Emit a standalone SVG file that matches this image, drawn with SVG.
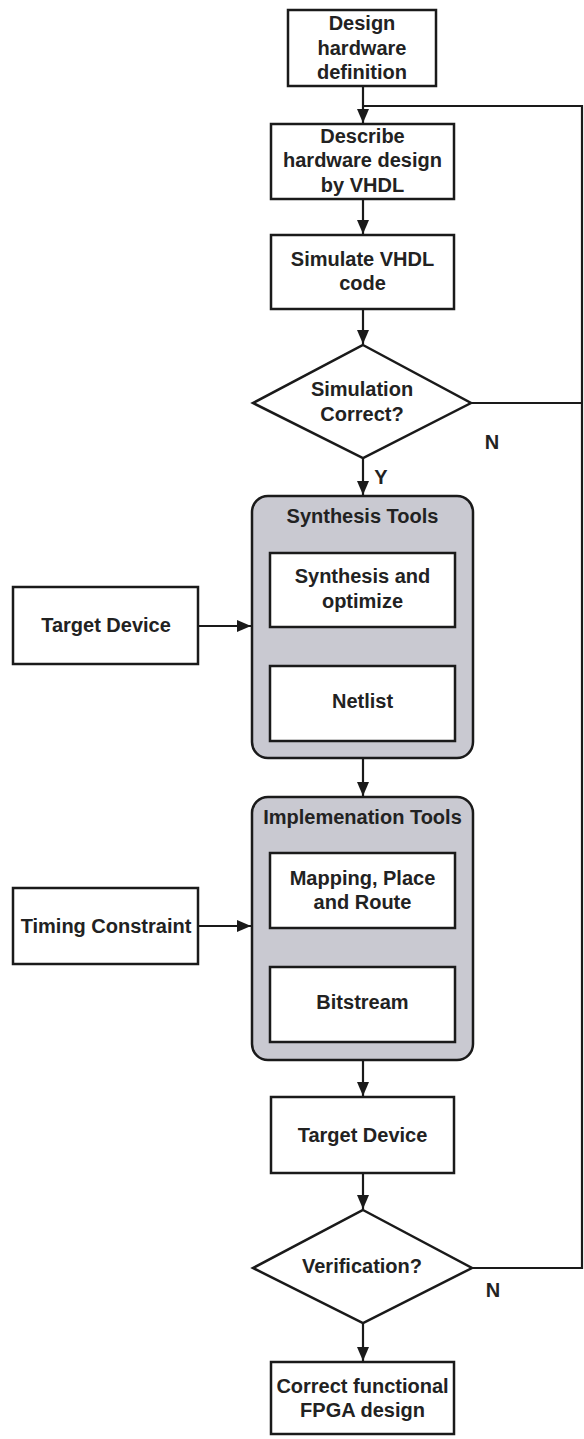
<svg xmlns="http://www.w3.org/2000/svg" width="584" height="1439" viewBox="0 0 584 1439">
<defs>
<style>
.box{fill:#ffffff;stroke:#1a1a1a;stroke-width:2.5}
.grp{fill:#c9c9d1;stroke:#1a1a1a;stroke-width:2.5}
.ln{fill:none;stroke:#1a1a1a;stroke-width:2.2}
text{font-family:"Liberation Sans",Arial,sans-serif;font-weight:bold;font-size:20px;fill:#222222;text-anchor:middle}
</style>
<marker id="ah" viewBox="0 0 14 12" refX="14" refY="6" markerWidth="14" markerHeight="12" markerUnits="userSpaceOnUse" orient="auto">
<path d="M0,0 L14,6 L0,12 z" fill="#1a1a1a"/>
</marker>
</defs>
<rect width="584" height="1439" fill="#ffffff"/>
<g id="connectors">
<path class="ln" d="M363,86 V123" marker-end="url(#ah)"/>
<path class="ln" d="M363,106 H582 V1268 H472"/>
<path class="ln" d="M471,403 H582"/>
<path class="ln" d="M363,199 V234" marker-end="url(#ah)"/>
<path class="ln" d="M363,309 V344" marker-end="url(#ah)"/>
<path class="ln" d="M363,458 V495" marker-end="url(#ah)"/>
<path class="ln" d="M198,626 H251" marker-end="url(#ah)"/>
<path class="ln" d="M363,758 V796" marker-end="url(#ah)"/>
<path class="ln" d="M198,926 H251" marker-end="url(#ah)"/>
<path class="ln" d="M363,1060 V1096" marker-end="url(#ah)"/>
<path class="ln" d="M363,1173 V1209" marker-end="url(#ah)"/>
<path class="ln" d="M363,1323 V1361" marker-end="url(#ah)"/>
</g>
<g id="n_design">
<rect class="box" x="288" y="10" width="148" height="76"/>
<text x="362" y="30">Design</text>
<text x="362" y="55">hardware</text>
<text x="362" y="79">definition</text>
</g>
<g id="n_describe">
<rect class="box" x="271" y="124" width="183" height="75"/>
<text x="362.5" y="143">Describe</text>
<text x="362.5" y="167">hardware design</text>
<text x="362.5" y="192">by VHDL</text>
</g>
<g id="n_simulate">
<rect class="box" x="271" y="235" width="183" height="74"/>
<text x="362.5" y="266">Simulate VHDL</text>
<text x="362.5" y="290">code</text>
</g>
<g id="n_simcorrect">
<polygon class="box" points="363,345 471,403 363,458 253,403"/>
<text x="362" y="396">Simulation</text>
<text x="362" y="421">Correct?</text>
</g>
<g id="lbl_n1"><text x="492" y="449">N</text></g>
<g id="lbl_y"><text x="381" y="484">Y</text></g>
<g id="n_synth">
<rect class="grp" x="252" y="496" width="221" height="262" rx="16"/>
<text x="362.5" y="523">Synthesis Tools</text>
<rect class="box" x="270" y="553" width="185" height="74"/>
<text x="362.5" y="583">Synthesis and</text>
<text x="362.5" y="608">optimize</text>
<rect class="box" x="270" y="666" width="185" height="75"/>
<text x="362.5" y="708">Netlist</text>
</g>
<g id="n_target1">
<rect class="box" x="13" y="587" width="185" height="77"/>
<text x="106" y="632">Target Device</text>
</g>
<g id="n_impl">
<rect class="grp" x="252" y="797" width="221" height="263" rx="16"/>
<text x="362.5" y="824">Implemenation Tools</text>
<rect class="box" x="270" y="853" width="185" height="75"/>
<text x="362.5" y="885">Mapping, Place</text>
<text x="362.5" y="909">and Route</text>
<rect class="box" x="270" y="967" width="185" height="75"/>
<text x="362.5" y="1009">Bitstream</text>
</g>
<g id="n_timing">
<rect class="box" x="13" y="888" width="185" height="76"/>
<text x="106" y="933">Timing Constraint</text>
</g>
<g id="n_target2">
<rect class="box" x="271" y="1097" width="183" height="76"/>
<text x="362.5" y="1142">Target Device</text>
</g>
<g id="n_verify">
<polygon class="box" points="363,1210 472,1268 363,1323 253,1268"/>
<text x="362" y="1273">Verification?</text>
</g>
<g id="lbl_n2"><text x="493" y="1297">N</text></g>
<g id="n_final">
<rect class="box" x="271" y="1362" width="183" height="72"/>
<text x="362.5" y="1393">Correct functional</text>
<text x="362.5" y="1417">FPGA design</text>
</g>
</svg>
